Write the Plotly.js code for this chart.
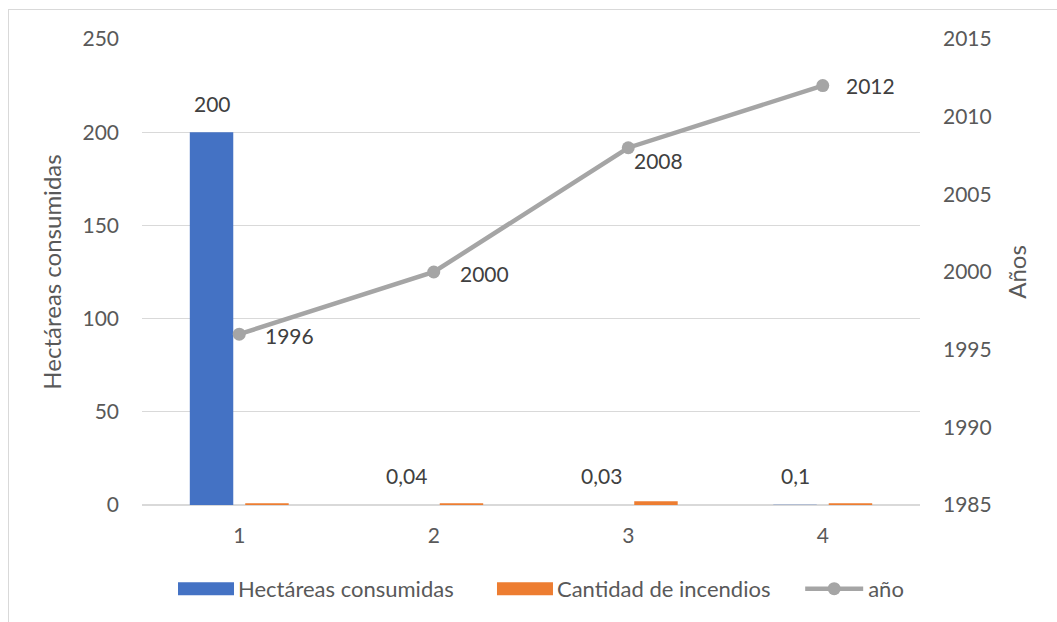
<!DOCTYPE html>
<html>
<head>
<meta charset="utf-8">
<script src="https://cdn.plot.ly/plotly-3.0.1.min.js"></script>
<style>
  html, body { margin: 0; padding: 0; background: #fff; overflow: hidden; }
  #chart { width: 1057px; height: 622px; position: relative; }
  #frame { position: absolute; left: 8px; top: 9px; width: 1200px; height: 700px;
           border-left: 1.5px solid #d9d9d9; border-top: 1.5px solid #d9d9d9; pointer-events: none; }
</style>
</head>
<body>
<div id="chart"></div>
<div id="frame"></div>
<script>
// Categories on the x axis
const categories = [1, 2, 3, 4];
// Hectares burned per event
const hectareas = [200, 0.04, 0.03, 0.1];
// Number of fires
const incendios = [1, 1, 2, 1];
// Year of each event
const anios = [1996, 2000, 2008, 2012];

const FONT = 'Lato, "Open Sans", sans-serif';
const LABEL = { family: FONT, size: 21, color: '#404040' };
const fmt = v => String(v).replace('.', ',');

const traces = [
  {
    type: 'bar', name: 'Hectáreas consumidas', x: categories, y: hectareas,
    marker: { color: '#4472c4' }, hoverinfo: 'skip', legend: 'legend'
  },
  {
    type: 'bar', name: 'Cantidad de incendios', x: categories, y: incendios,
    marker: { color: '#ed7d31' }, hoverinfo: 'skip', legend: 'legend2'
  },
  {
    type: 'scatter', mode: 'lines+markers', name: 'año', x: categories, y: anios,
    yaxis: 'y2', legend: 'legend3',
    line: { color: '#a5a5a5', width: 4.5 },
    marker: { color: '#a5a5a5', size: 13 },
    cliponaxis: false, hoverinfo: 'skip'
  }
];

// Value labels: above the blue bars, beside the year markers
const annotations = [];
hectareas.forEach((v, i) => {
  annotations.push({
    x: categories[i], y: v, xref: 'x', yref: 'y', text: fmt(v), showarrow: false,
    xanchor: 'center', yanchor: 'middle', xshift: -27, yshift: 29, font: LABEL
  });
});
const yearShift = [[24, -1], [24, -1], [4, -13], [21, 0]];
anios.forEach((v, i) => {
  annotations.push({
    x: categories[i], y: v, xref: 'x', yref: 'y2', text: String(v), showarrow: false,
    xanchor: 'left', yanchor: 'middle', xshift: yearShift[i][0], yshift: yearShift[i][1], font: LABEL
  });
});

// One legend box per series, laid out in a row under the axis
const legendBase = {
  orientation: 'h', y: -0.18, xanchor: 'left', yanchor: 'middle',
  font: { family: FONT, size: 22, color: '#595959' }, itemwidth: 58
};

const layout = {
  width: 1057, height: 622,
  margin: { l: 142, r: 137, t: 39, b: 117 },
  paper_bgcolor: 'rgba(0,0,0,0)', plot_bgcolor: '#fff',
  font: { family: FONT, size: 21, color: '#595959' },
  separators: ',.',
  barmode: 'group', bargap: 0.43, bargroupgap: 0.216,
  showlegend: true,
  legend: Object.assign({}, legendBase, { x: 0.036 }),
  legend2: Object.assign({}, legendBase, { x: 0.446 }),
  legend3: Object.assign({}, legendBase, { x: 0.846 }),
  annotations: annotations,
  xaxis: {
    range: [0.5, 4.5], tickvals: categories, ticktext: categories.map(String),
    showgrid: false, zeroline: false, showline: false, ticks: '',
    ticklabelstandoff: 16
  },
  yaxis: {
    range: [0, 250], dtick: 50, showgrid: true, gridcolor: '#d9d9d9', gridwidth: 1.3,
    zeroline: true, zerolinecolor: '#d9d9d9', zerolinewidth: 1.3,
    showline: false, ticks: '', ticklabelstandoff: 22,
    title: { text: 'Hectáreas consumidas', standoff: 14, font: { family: FONT, size: 24, color: '#595959' } }
  },
  yaxis2: {
    overlaying: 'y', side: 'right', range: [1985, 2015], dtick: 5,
    showgrid: false, zeroline: false, showline: false, ticks: '', ticklabelstandoff: 22,
    title: { text: 'Años', standoff: 18, font: { family: FONT, size: 24, color: '#595959' } }
  }
};

Plotly.newPlot('chart', traces, layout, { displayModeBar: false, staticPlot: true }).then(gd => {
  // Widen the bar swatches in the legends to wide rectangles
  gd.querySelectorAll('.legendpoints path').forEach(p => {
    const d = p.getAttribute('d') || '';
    if (d.indexOf('M6,6H-6V-6H6Z') === 0) p.setAttribute('d', 'M30,6.5H-26V-6.5H30Z');
  });
});
</script>
</body>
</html>
